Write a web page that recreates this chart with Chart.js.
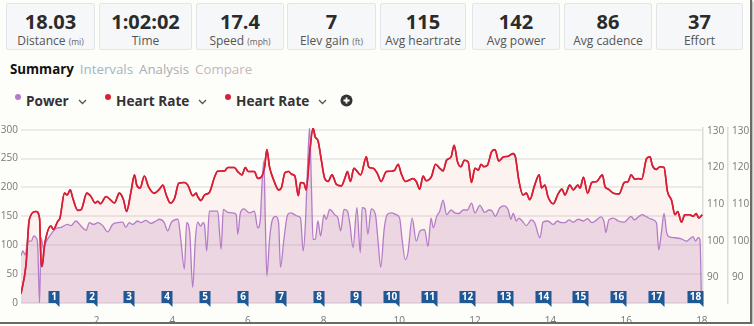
<!DOCTYPE html>
<html>
<head>
<meta charset="utf-8">
<script src="https://cdn.jsdelivr.net/npm/chart.js@4.4.1/dist/chart.umd.min.js"></script>
<style>
  body { margin: 0; background: #fdfdfa; font-family: "Open Sans", sans-serif; }
  #page { position: relative; width: 750px; height: 322px; border-right: 2px solid #6a6a6a; border-bottom: 2px solid #6a6a6a; box-shadow: 1px 1px 2px rgba(0,0,0,0.35); overflow: hidden; background: #fdfdfa; }
  .stat { position: absolute; top: 3px; height: 45px; background: #f6f7f9; border: 1px solid #e2e5e9; border-radius: 2px; text-align: center; }
  .stat .num { font-weight: 700; font-size: 20px; color: #2b2b2b; line-height: 22px; margin-top: 7px; }
  .stat .lbl { font-size: 12px; color: #555; line-height: 14px; margin-top: 1px; }
  .stat .lbl small { font-size: 8.5px; color: #666; }
  #tabs { position: absolute; left: 10px; top: 60px; font-size: 13.3px; white-space: nowrap; }
  #tabs span { margin-right: 6px; }
  #legend { position: absolute; top: 91px; left: 0; height: 20px; width: 400px; }
  .li { position: absolute; top: 0; font-weight: 700; font-size: 13.6px; color: #333; white-space: nowrap; line-height: 20px; }
  .li .dot { display: inline-block; width: 6px; height: 6px; border-radius: 3px; vertical-align: 6px; margin-right: 5px; }
  .li svg { vertical-align: 1px; margin-left: 9px; }
  #chartBox { position: absolute; left: 0; top: 118px; width: 750px; height: 204px; }
</style>
</head>
<body>
<div id="page">
  <div id="stats"></div>
  <div id="tabs"></div>
  <div id="legend"></div>
  <div id="chartBox"><canvas id="myChart"></canvas></div>
</div>
<script>
// summary numbers
const statValues = ['18.03', '1:02:02', '17.4', '7', '115', '142', '86', '37'];
const statLabels = ['Distance', 'Time', 'Speed', 'Elev gain', 'Avg heartrate', 'Avg power', 'Avg cadence', 'Effort'];
const statUnits = ['mi', '', 'mph', 'ft', '', '', '', ''];
const tabNames = ['Summary', 'Intervals', 'Analysis', 'Compare'];
const seriesNames = ['Power', 'Heart Rate', 'Heart Rate'];

// x ticks (miles) and laps
const xTicks = [2, 4, 6, 8, 10, 12, 14, 16, 18];
const powerTicks = [0, 50, 100, 150, 200, 250, 300];
const hrTicks = [90, 100, 110, 120, 130];
const lapEnds = [1, 2, 3, 4, 5, 6, 7, 8, 9, 10, 11, 12, 13, 14, 15, 16, 17, 18.03];

// power (W) by distance (mi)
const powerDist = [0.00, 0.05, 0.11, 0.18, 0.27, 0.34, 0.40, 0.44, 0.49, 0.53, 0.60, 0.66, 0.79, 0.93, 1.06, 1.23, 1.32, 1.45, 1.59, 1.72,
  1.81, 1.92, 2.03, 2.16, 2.29, 2.42, 2.55, 2.69, 2.77, 2.86, 2.95, 3.08, 3.17, 3.30, 3.43, 3.57, 3.66, 3.78, 3.88, 3.97,
  4.15, 4.22, 4.32, 4.38, 4.46, 4.54, 4.61, 4.67, 4.75, 4.81, 4.85, 4.91, 4.98, 5.12, 5.20, 5.29, 5.35, 5.47, 5.60, 5.69,
  5.73, 5.80, 5.89, 6.04, 6.17, 6.26, 6.33, 6.36, 6.42, 6.46, 6.50, 6.57, 6.65, 6.74, 6.81, 6.86, 6.95, 7.05, 7.14, 7.23,
  7.33, 7.39, 7.46, 7.52, 7.57, 7.63, 7.68, 7.72, 7.78, 7.85, 7.92, 8.01, 8.07, 8.16, 8.29, 8.38, 8.45, 8.54, 8.63, 8.69,
  8.78, 8.88, 8.97, 9.02, 9.10, 9.17, 9.26, 9.37, 9.44, 9.51, 9.60, 9.68, 9.79, 9.92, 10.01, 10.07, 10.16, 10.23, 10.34, 10.45,
  10.55, 10.67, 10.76, 10.84, 10.90, 10.99, 11.07, 11.16, 11.25, 11.37, 11.47, 11.58, 11.69, 11.80, 11.91, 12.00, 12.13, 12.26, 12.37, 12.46,
  12.54, 12.66, 12.77, 12.88, 12.95, 13.01, 13.10, 13.16, 13.25, 13.36, 13.49, 13.58, 13.72, 13.80, 13.93, 14.07, 14.18, 14.29, 14.38, 14.49,
  14.60, 14.73, 14.87, 14.98, 15.09, 15.22, 15.33, 15.42, 15.46, 15.54, 15.66, 15.79, 15.95, 16.05, 16.13, 16.21, 16.32, 16.42, 16.54, 16.67,
  16.80, 16.86, 16.93, 17.00, 17.07, 17.13, 17.29, 17.46, 17.60, 17.68, 17.77, 17.83, 17.90, 17.95, 17.99];
const powerVals = [82, 90, 83, 107, 107, 116, 113, 102, 0, 113, 93, 105, 119, 129, 131, 136, 134, 142, 133, 126,
  139, 136, 139, 134, 123, 136, 139, 140, 131, 139, 136, 142, 139, 143, 138, 142, 145, 140, 125, 139,
  145, 113, 59, 139, 122, 27, 110, 140, 133, 139, 136, 90, 159, 159, 159, 93, 162, 157, 156, 153,
  119, 156, 163, 156, 159, 130, 147, 190, 246, 139, 47, 110, 145, 150, 139, 62, 110, 153, 156, 153,
  150, 147, 90, 139, 225, 304, 196, 110, 110, 142, 116, 153, 145, 162, 153, 147, 125, 162, 159, 139,
  96, 165, 87, 165, 163, 119, 163, 153, 107, 62, 127, 153, 156, 153, 147, 113, 75, 87, 147, 107,
  125, 127, 98, 147, 130, 150, 159, 178, 153, 161, 156, 155, 161, 161, 173, 156, 169, 157, 161, 159,
  150, 165, 168, 161, 145, 155, 142, 147, 142, 134, 144, 139, 113, 140, 142, 136, 142, 139, 139, 144,
  140, 145, 142, 146, 139, 144, 149, 139, 122, 144, 147, 142, 140, 146, 150, 144, 149, 153, 149, 145,
  139, 92, 122, 155, 122, 115, 113, 111, 107, 111, 115, 107, 113, 110, 0];

// heart rate (bpm) by distance (mi)
const hrDist = [0.00, 0.13, 0.22, 0.40, 0.49, 0.53, 0.56, 0.62, 0.79, 0.86, 0.97, 1.03, 1.15, 1.22, 1.30, 1.37, 1.50, 1.59, 1.74, 1.85,
  1.96, 2.03, 2.10, 2.25, 2.38, 2.47, 2.60, 2.71, 2.79, 2.91, 3.00, 3.06, 3.15, 3.26, 3.37, 3.52, 3.66, 3.75, 3.84, 3.95,
  4.06, 4.17, 4.32, 4.41, 4.54, 4.63, 4.67, 4.76, 4.85, 4.98, 5.12, 5.20, 5.38, 5.47, 5.64, 5.73, 5.84, 5.93, 6.01, 6.17,
  6.26, 6.36, 6.44, 6.50, 6.57, 6.68, 6.81, 6.88, 6.98, 7.08, 7.15, 7.24, 7.33, 7.39, 7.48, 7.54, 7.63, 7.72, 7.78, 7.85,
  7.94, 8.03, 8.12, 8.22, 8.34, 8.47, 8.56, 8.63, 8.71, 8.80, 8.86, 8.98, 9.13, 9.19, 9.31, 9.42, 9.52, 9.66, 9.79, 9.88,
  9.97, 10.05, 10.16, 10.27, 10.36, 10.45, 10.54, 10.63, 10.71, 10.85, 10.96, 11.07, 11.16, 11.25, 11.37, 11.45, 11.54, 11.63, 11.72, 11.82,
  11.91, 12.00, 12.09, 12.16, 12.24, 12.33, 12.44, 12.53, 12.63, 12.75, 12.88, 13.01, 13.07, 13.16, 13.27, 13.36, 13.45, 13.58, 13.70, 13.76,
  13.85, 13.93, 14.07, 14.20, 14.30, 14.38, 14.51, 14.60, 14.72, 14.78, 14.87, 14.98, 15.09, 15.22, 15.37, 15.44, 15.53, 15.66, 15.81, 15.95,
  16.05, 16.13, 16.23, 16.32, 16.41, 16.54, 16.63, 16.69, 16.80, 16.89, 17.00, 17.09, 17.20, 17.29, 17.36, 17.46, 17.55, 17.68, 17.77, 17.85,
  17.92, 18.01];
const hrVals = [85.5, 93.2, 105.8, 108, 106.2, 94.1, 93, 98.6, 104, 103.1, 105.3, 106.2, 113, 112.5, 113.9, 111.6, 108.3, 108.5, 113, 112.1,
  110.3, 110.8, 110.1, 112.1, 111, 110.3, 113, 111.2, 108, 113.5, 118, 115.2, 114.4, 117.7, 114.8, 113, 114.1, 115.2, 112.5, 110.3,
  111.6, 115.7, 115.9, 115.2, 112.3, 113, 112.1, 111, 112.5, 113.2, 117.5, 119, 119.1, 120, 120, 118.9, 118, 120, 118.9, 118.9,
  117, 117.5, 120.2, 124.9, 120.2, 116.6, 113.9, 114.4, 118.6, 118.9, 118.2, 117.7, 112.3, 115.9, 115.7, 113.9, 123.8, 130.8, 128.3, 127.4,
  122, 117, 116.2, 118, 115.4, 115, 117, 118.9, 116.2, 119.8, 119.3, 118, 122.9, 120.2, 119.8, 118.4, 116.2, 118.9, 119, 119.3,
  120.9, 118.4, 116.2, 116.6, 117, 116.2, 114.1, 117.7, 116.4, 117.5, 120.9, 119.8, 119.1, 122, 122.9, 126.1, 121.6, 120.2, 122, 121.6,
  115.9, 119.8, 119.3, 120.9, 120.2, 120.6, 124.3, 124.9, 121.8, 122.9, 123.1, 123.8, 122.9, 116.6, 112.5, 113, 111.2, 115.2, 118, 114.4,
  115.2, 112.1, 110.1, 112.8, 114.1, 112.5, 115.2, 113.9, 115.2, 114.4, 117.3, 113, 115.9, 116.2, 118, 114.8, 114.1, 113, 112.8, 115.9,
  116.2, 118, 116.8, 117, 116.8, 122.5, 122.9, 120.6, 119.5, 120.2, 120, 113.5, 111, 107.1, 108, 105.1, 107.1, 107.1, 106.7, 107.4,
  106.2, 107.1];

const powerColor = '#b47cc8';
const hrColor = '#d81f35';

// header boxes
const boxLefts = [6, 99, 196, 287, 380, 472, 564, 656];
const boxWidths = [87, 91, 86, 87, 84, 86, 86, 85];
let statsHtml = '';
statValues.forEach((v, i) => {
  let unit = statUnits[i] ? ' <small>(' + statUnits[i] + ')</small>' : '';
  statsHtml += '<div class="stat" style="left:' + boxLefts[i] + 'px;width:' + boxWidths[i] + 'px">' +
    '<div class="num">' + v + '</div><div class="lbl">' + statLabels[i] + unit + '</div></div>';
});
document.getElementById('stats').innerHTML = statsHtml;

const tabColors = ['#111', '#9db7c2', '#a9aeb2', '#c7b6be'];
document.getElementById('tabs').innerHTML = tabNames.map((t, i) =>
  '<span style="color:' + tabColors[i] + ';font-weight:' + (i === 0 ? 700 : 400) + '">' + t + '</span>').join('');

// legend row
const legendLefts = [15, 105, 225];
const legendColors = [powerColor, hrColor, hrColor];
const chevron = '<svg width="9" height="6"><polyline points="1,1 4.5,4.5 8,1" fill="none" stroke="#555" stroke-width="1.3"/></svg>';
let legendHtml = '';
seriesNames.forEach((n, i) => {
  legendHtml += '<div class="li" style="left:' + legendLefts[i] + 'px"><span class="dot" style="background:' + legendColors[i] + '"></span>' + n + chevron + '</div>';
});
legendHtml += '<svg style="position:absolute;left:340px;top:3px" width="13" height="13"><circle cx="6.5" cy="6.5" r="6" fill="#333"/>' +
  '<path d="M6.5 3.5v6M3.5 6.5h6" stroke="#fff" stroke-width="1.8"/></svg>';
document.getElementById('legend').innerHTML = legendHtml;

const powerData = powerDist.map((d, i) => ({x: d, y: powerVals[i]}));
const hrData = hrDist.map((d, i) => ({x: d, y: hrVals[i]}));

// lap flags along the bottom
const lapPlugin = {
  id: 'lapFlags',
  afterDatasetsDraw: (chart) => {
    const {ctx, chartArea: {bottom}, scales: {x}} = chart;
    ctx.save();
    ctx.font = 'bold 10px "Open Sans", sans-serif';
    ctx.textAlign = 'center';
    ctx.textBaseline = 'middle';
    lapEnds.forEach((d, i) => {
      const label = String(i + 1);
      const xr = Math.round(x.getPixelForValue(d)) + 0.5;
      const w = label.length > 1 ? 16 : 11;
      const top = bottom - 12;
      ctx.fillStyle = '#1f5895';
      ctx.fillRect(xr - w, top, w, 12);
      ctx.beginPath();
      ctx.moveTo(xr - 4, bottom);
      ctx.lineTo(xr, bottom);
      ctx.lineTo(xr, bottom + 4);
      ctx.closePath();
      ctx.fill();
      ctx.fillStyle = '#fff';
      ctx.fillText(label, xr - w / 2, top + 6.5);
    });
    ctx.restore();
  }
};

const tickFont = {family: '"Open Sans", sans-serif', size: 10};
const ctx = document.getElementById('myChart').getContext('2d');
let myChart = new Chart(ctx, {
  type: 'line',
  data: {
    datasets: [
      {
        label: seriesNames[2],
        data: hrData,
        yAxisID: 'y2',
        borderColor: hrColor,
        borderWidth: 1.6,
        fill: false,
        pointRadius: 0,
        cubicInterpolationMode: 'monotone',
        order: 0
      },
      {
        label: seriesNames[0],
        data: powerData,
        yAxisID: 'y',
        borderColor: powerColor,
        borderWidth: 1.3,
        backgroundColor: 'rgba(168,104,168,0.2)',
        fill: 'origin',
        pointRadius: 0,
        cubicInterpolationMode: 'monotone',
        order: 1
      },
      {
        label: seriesNames[1],
        data: hrData,
        yAxisID: 'y1',
        borderColor: hrColor,
        borderWidth: 1.6,
        backgroundColor: 'rgba(230,60,60,0.06)',
        fill: 'start',
        pointRadius: 0,
        cubicInterpolationMode: 'monotone',
        order: 2
      }
    ]
  },
  options: {
    responsive: true,
    maintainAspectRatio: false,
    animation: false,
    layout: {padding: {top: 8, left: 0, right: 0, bottom: 0}},
    plugins: {legend: {display: false}, tooltip: {enabled: false}},
    scales: {
      x: {
        type: 'linear',
        min: 0,
        max: 18.03,
        grid: {display: false},
        border: {display: true, color: '#e2e2e2'},
        ticks: {color: '#777', font: tickFont, padding: 4, maxRotation: 0},
        afterBuildTicks: (axis) => { axis.ticks = xTicks.map(v => ({value: v})); },
        afterFit: (axis) => { axis.height = 19; }
      },
      y: {
        position: 'left',
        min: 0,
        max: 303,
        grid: {color: '#ebebeb', lineWidth: 2, drawTicks: false},
        border: {display: false},
        ticks: {color: '#777', font: tickFont, padding: 3},
        afterBuildTicks: (axis) => { axis.ticks = powerTicks.map(v => ({value: v})); },
        afterFit: (axis) => { axis.width = 21; }
      },
      y1: {
        position: 'right',
        min: 83,
        max: 130.8,
        grid: {display: false, drawTicks: false},
        border: {display: true, color: '#dcdcdc', width: 1.5},
        ticks: {color: '#777', font: tickFont, padding: 4},
        afterBuildTicks: (axis) => { axis.ticks = hrTicks.map(v => ({value: v})); },
        afterFit: (axis) => { axis.width = 25; }
      },
      y2: {
        position: 'right',
        min: 83,
        max: 130.8,
        grid: {display: false, drawTicks: false},
        border: {display: true, color: '#dcdcdc', width: 1.5},
        ticks: {color: '#777', font: tickFont, padding: 4},
        afterBuildTicks: (axis) => { axis.ticks = hrTicks.map(v => ({value: v})); },
        afterFit: (axis) => { axis.width = 22; }
      }
    }
  },
  plugins: [lapPlugin]
});
</script>
</body>
</html>
